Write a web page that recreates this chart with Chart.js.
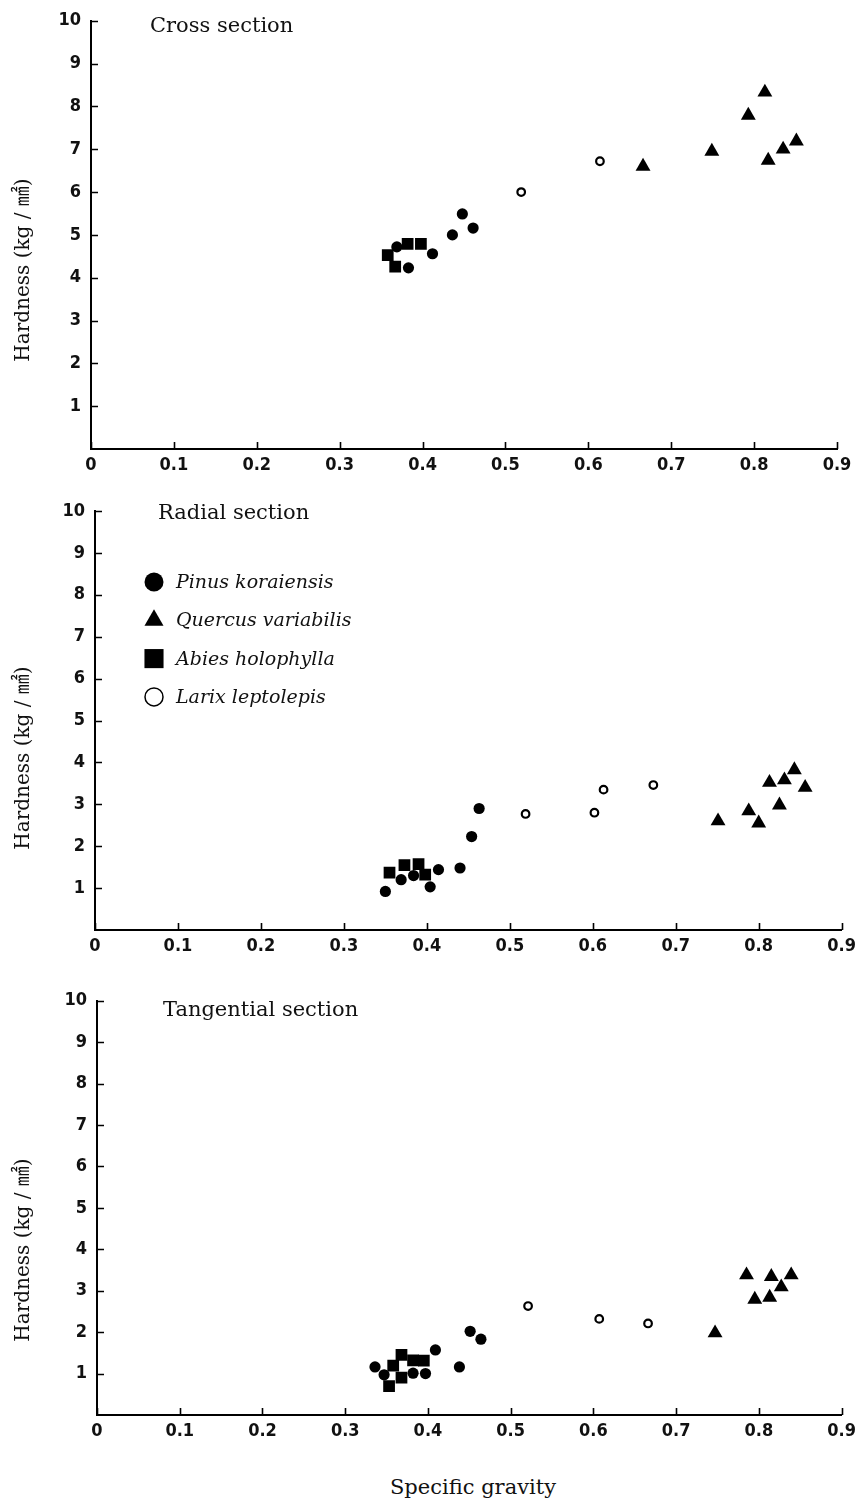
<!DOCTYPE html>
<html>
<head>
<meta charset="utf-8">
<script src="https://cdn.jsdelivr.net/npm/chart.js@4.4.1/dist/chart.umd.min.js"></script>
<style>
  html, body { margin: 0; padding: 0; background: #fff; }
  #wrap { position: relative; width: 862px; height: 1503px; overflow: hidden; background: #fff; }
  .panel { position: absolute; left: 0; width: 862px; }
  .txt { position: absolute; font-family: 'DejaVu Serif', 'Liberation Serif', serif; color: #111; white-space: nowrap; line-height: 1; }
  .ytitle { position: absolute; font-family: 'DejaVu Serif', 'Liberation Serif', 'Noto Sans CJK JP', serif; font-size: 20px; color: #111; white-space: nowrap; line-height: 1; transform: translate(-50%, -50%) rotate(-90deg); }
</style>
</head>
<body>
<div id="wrap">
  <div class="panel" style="top:0;height:490px"><canvas id="c1" width="862" height="490"></canvas></div>
  <div class="panel" style="top:490px;height:490px"><canvas id="c2" width="862" height="490"></canvas></div>
  <div class="panel" style="top:980px;height:490px"><canvas id="c3" width="862" height="490"></canvas></div>

  <div class="txt" style="left:150px;top:15px;font-size:21px">Cross section</div>
  <div class="txt" style="left:158px;top:502px;font-size:21px">Radial section</div>
  <div class="txt" style="left:163px;top:999px;font-size:21px">Tangential section</div>
  <div class="txt" style="left:473px;top:1477px;font-size:21px;transform:translateX(-50%)">Specific gravity</div>

  <div class="ytitle" style="left:22px;top:270px">Hardness (kg / ㎟)</div>
  <div class="ytitle" style="left:22px;top:758px">Hardness (kg / ㎟)</div>
  <div class="ytitle" style="left:22px;top:1250px">Hardness (kg / ㎟)</div>
</div>
<script>
// ---- Tick labels ----
const xTickLabels = ['0', '0.1', '0.2', '0.3', '0.4', '0.5', '0.6', '0.7', '0.8', '0.9'];
const yTickLabels = ['', '1', '2', '3', '4', '5', '6', '7', '8', '9', '10'];

// ---- Species (legend) ----
const speciesNames = ['Pinus koraiensis', 'Quercus variabilis', 'Abies holophylla', 'Larix leptolepis'];

// ---- Cross section: [specific gravity, hardness] ----
const crossPinus   = [[0.369,4.72],[0.383,4.23],[0.412,4.56],[0.436,5.0],[0.448,5.49],[0.461,5.16]];
const crossQuercus = [[0.666,6.6],[0.749,6.95],[0.813,8.33],[0.793,7.79],[0.817,6.74],[0.835,7.0],[0.851,7.19]];
const crossAbies   = [[0.358,4.53],[0.367,4.26],[0.382,4.79],[0.398,4.79]];
const crossLarix   = [[0.519,6.0],[0.614,6.72]];

// ---- Radial section ----
const radialPinus   = [[0.35,0.92],[0.369,1.2],[0.384,1.3],[0.404,1.03],[0.414,1.44],[0.44,1.48],[0.454,2.23],[0.463,2.9]];
const radialQuercus = [[0.751,2.6],[0.788,2.84],[0.80,2.55],[0.825,2.98],[0.813,3.52],[0.831,3.58],[0.843,3.82],[0.856,3.4]];
const radialAbies   = [[0.355,1.37],[0.373,1.55],[0.39,1.57],[0.398,1.32]];
const radialLarix   = [[0.519,2.77],[0.602,2.8],[0.613,3.35],[0.673,3.46]];

// ---- Tangential section ----
const tangPinus   = [[0.336,1.16],[0.347,0.97],[0.382,1.01],[0.397,1.0],[0.409,1.57],[0.438,1.16],[0.451,2.02],[0.464,1.83]];
const tangQuercus = [[0.785,3.38],[0.815,3.34],[0.839,3.38],[0.827,3.09],[0.795,2.79],[0.813,2.84],[0.747,1.98]];
const tangAbies   = [[0.353,0.7],[0.358,1.19],[0.368,0.9],[0.368,1.45],[0.382,1.32],[0.395,1.31]];
const tangLarix   = [[0.521,2.63],[0.607,2.32],[0.666,2.21]];

const toXY = arr => arr.map(p => ({x: p[0], y: p[1]}));

const styles = [
  {pointStyle: 'circle',   pointRadius: 5.6, backgroundColor: '#000', borderColor: '#000', borderWidth: 0},
  {pointStyle: 'triangle', pointRadius: 8.6, backgroundColor: '#000', borderColor: '#000', borderWidth: 0},
  {pointStyle: 'rect',     pointRadius: 8.3, backgroundColor: '#000', borderColor: '#000', borderWidth: 0},
  {pointStyle: 'circle',   pointRadius: 3.8, backgroundColor: '#fff', borderColor: '#000', borderWidth: 2.2}
];

const tickFont = {family: "'Liberation Sans Narrow','DejaVu Sans Condensed','Arial Narrow',sans-serif", weight: 'bold', size: 18};

// inward tick marks, placed by the scales themselves
const inwardTicks = {
  id: 'inwardTicks',
  afterDraw(chart) {
    const ctx = chart.ctx;
    const {x, y} = chart.scales;
    const area = chart.chartArea;
    ctx.save();
    ctx.strokeStyle = '#000';
    ctx.lineWidth = 1.6;
    ctx.beginPath();
    x.ticks.forEach(t => {
      const px = Math.round(x.getPixelForValue(t.value)) + 0.5;
      ctx.moveTo(px, area.bottom);
      ctx.lineTo(px, area.bottom - 7);
    });
    y.ticks.forEach(t => {
      if (t.value === 0) return;
      const py = Math.round(y.getPixelForValue(t.value)) + 0.5;
      ctx.moveTo(area.left, py);
      ctx.lineTo(area.left + 7, py);
    });
    ctx.stroke();
    ctx.restore();
  }
};

const legendPlugin = {
  id: 'sectionLegend',
  afterDraw(chart, args, opts) {
    if (!opts || !opts.show) return;
    const ctx = chart.ctx;
    const markers = [
      {pointStyle: 'circle', radius: 9.5, fill: '#000', bw: 0},
      {pointStyle: 'triangle', radius: 11, fill: '#000', bw: 0},
      {pointStyle: 'rect', radius: 13.5, fill: '#000', bw: 0},
      {pointStyle: 'circle', radius: 9, fill: '#fff', bw: 1.5}
    ];
    ctx.save();
    ctx.font = "italic 19px 'DejaVu Serif','Liberation Serif',serif";
    ctx.textBaseline = 'middle';
    ctx.textAlign = 'left';
    speciesNames.forEach((name, i) => {
      const y = opts.y0 + i * opts.dy;
      const m = markers[i];
      ctx.fillStyle = m.fill;
      ctx.strokeStyle = '#000';
      ctx.lineWidth = m.bw;
      Chart.helpers.drawPoint(ctx, {pointStyle: m.pointStyle, radius: m.radius, borderWidth: m.bw, rotation: 0}, opts.mx, y);
      ctx.fillStyle = '#111';
      ctx.fillText(name, opts.tx, y + 1);
    });
    ctx.restore();
  }
};

function makeChart(id, sets, geom, legend) {
  const datasets = sets.map((d, i) => Object.assign({label: speciesNames[i], data: toXY(d), order: [1, 0, 2, 3][i]}, styles[i]));
  return new Chart(document.getElementById(id), {
    type: 'scatter',
    data: {datasets},
    plugins: [inwardTicks, legendPlugin],
    options: {
      responsive: false,
      animation: false,
      devicePixelRatio: 1,
      events: [],
      layout: {padding: {top: geom.top, right: geom.right, left: 0, bottom: 0}},
      plugins: {legend: {display: false}, tooltip: {enabled: false}, title: {display: false},
                sectionLegend: legend || {show: false}},
      scales: {
        x: {
          type: 'linear', min: 0, max: 0.9,
          afterFit: s => { s.height = geom.xh; },
          border: {display: true, color: '#000', width: 2},
          grid: {display: false, drawOnChartArea: false, drawTicks: false},
          ticks: {stepSize: 0.1, autoSkip: false, maxRotation: 0, minRotation: 0, padding: 6, color: '#111', font: tickFont,
                  callback: (v, i) => xTickLabels[i]}
        },
        y: {
          type: 'linear', min: 0, max: 10,
          afterFit: s => { s.width = geom.left; },
          border: {display: true, color: '#000', width: 2},
          grid: {display: false, drawOnChartArea: false, drawTicks: false},
          ticks: {stepSize: 1, autoSkip: false, padding: 10, color: '#111', font: tickFont,
                  callback: (v, i) => yTickLabels[i]}
        }
      }
    }
  });
}

makeChart('c1', [crossPinus, crossQuercus, crossAbies, crossLarix], {top: 20, right: 25, left: 91, xh: 41});
makeChart('c2', [radialPinus, radialQuercus, radialAbies, radialLarix], {top: 21, right: 11, left: 95, xh: 50},
          {show: true, mx: 154, tx: 176, y0: 92, dy: 38.3});
makeChart('c3', [tangPinus, tangQuercus, tangAbies, tangLarix], {top: 16, right: 11, left: 97, xh: 55});
</script>
</body>
</html>
